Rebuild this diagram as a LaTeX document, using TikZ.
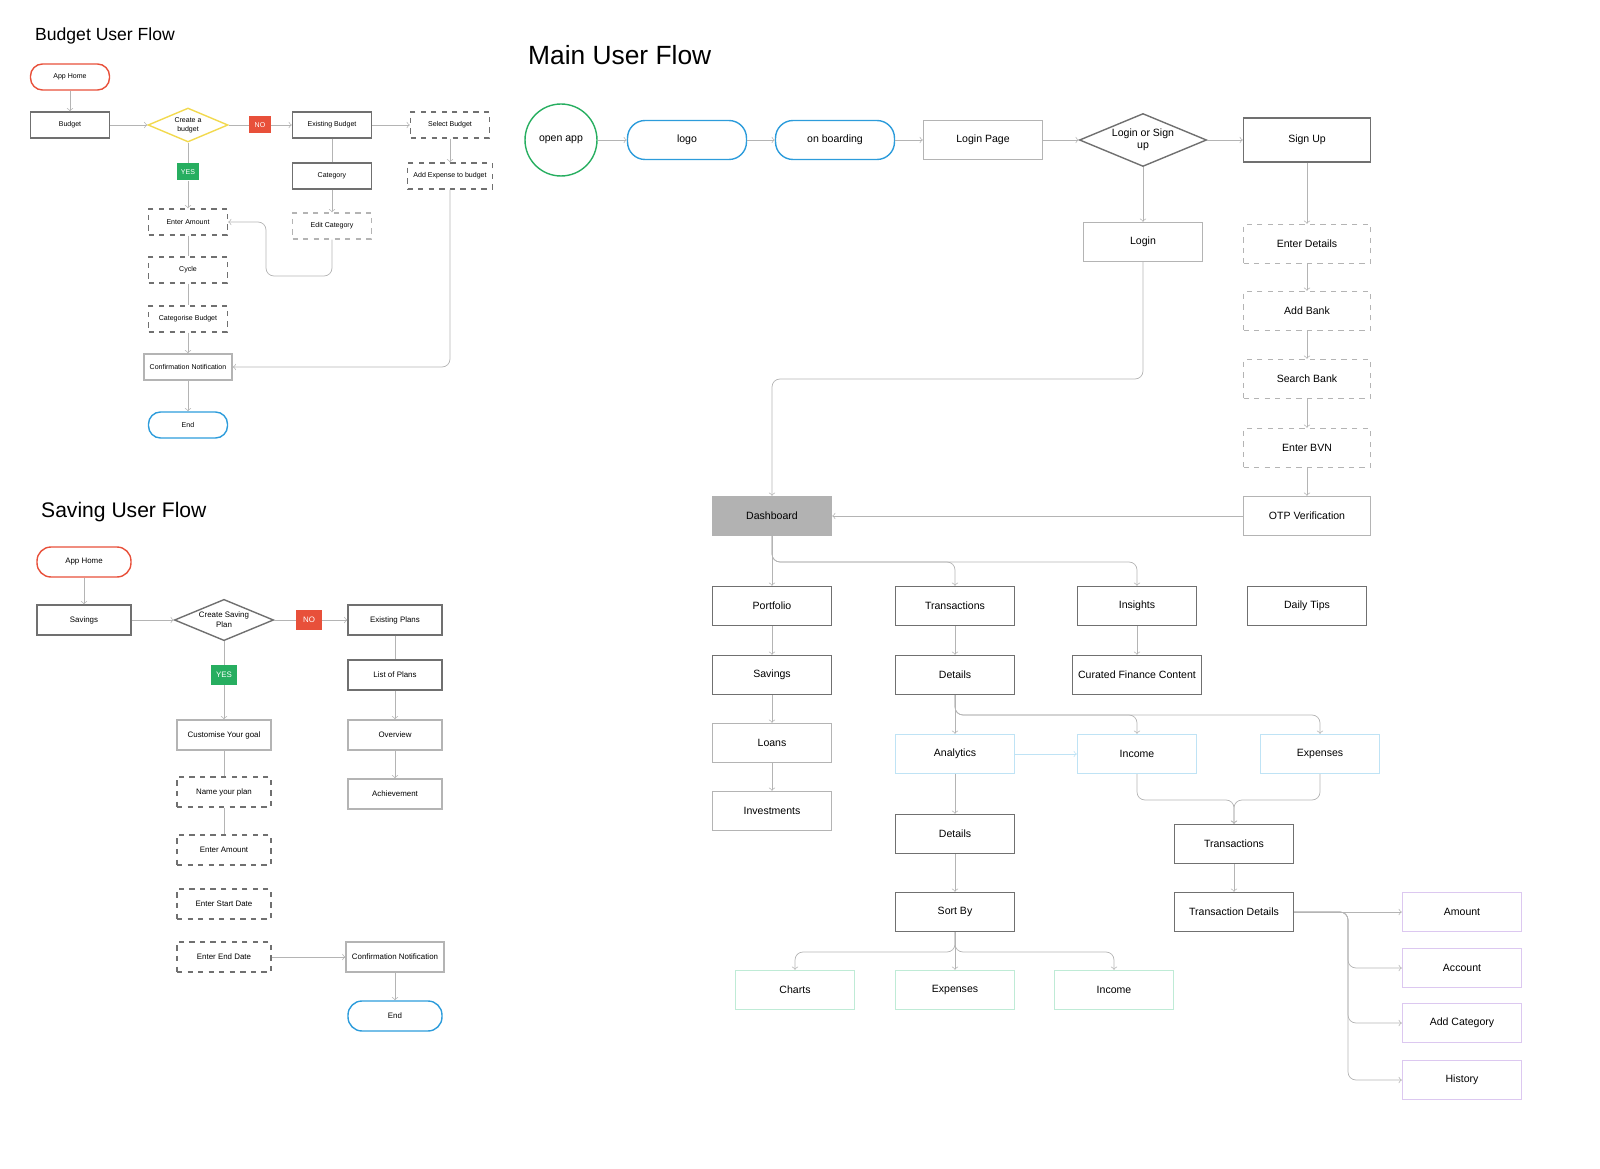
\documentclass[tikz,border=0pt]{standalone}
\usepackage{fontspec}
\setmainfont{Liberation Sans}
\usetikzlibrary{arrows,positioning,shapes.geometric}
\definecolor{ln}{HTML}{B4B4B4}
\definecolor{bd}{HTML}{707070}
\definecolor{redc}{HTML}{E8503A}
\definecolor{bluec}{HTML}{2D9CDB}
\definecolor{greenc}{HTML}{27AE60}
\definecolor{yelc}{HTML}{F2D94E}
\definecolor{ltblue}{HTML}{BFE3F5}
\definecolor{ltgreen}{HTML}{BFEBD6}
\definecolor{ltpurp}{HTML}{DCC8F0}
\begin{document}
\begin{tikzpicture}[x=0.02cm,y=-0.02cm,
  box/.style={draw=bd,thick,minimum width=2.38cm,minimum height=0.78cm,font=\fontsize{6}{7}\selectfont,align=center},
  lbox/.style={box,draw=ln},
  dbox/.style={box,dashed,draw=bd},
  pill/.style={box,rounded corners=0.35cm},
  dia/.style={diamond,aspect=2.4,draw=bd,thick,inner sep=1pt,font=\fontsize{6}{7}\selectfont,align=center},
  tag/.style={minimum width=0.44cm,minimum height=0.34cm,text=white,inner sep=0pt},
  sb/.style={minimum width=1.58cm,minimum height=0.52cm,font=\fontsize{4}{5}\selectfont},
  sv/.style={minimum width=1.88cm,minimum height=0.6cm,font=\fontsize{4.5}{5.5}\selectfont},
  con/.style={draw=ln,->,rounded corners=0.16cm},
  lin/.style={draw=ln,rounded corners=0.16cm}]

% titles
\node[anchor=west,font=\fontsize{10}{12}\selectfont] at (29,36) {Budget User Flow};
\node[anchor=west,font=\fontsize{12}{14}\selectfont] at (35,512) {Saving User Flow};
\node[anchor=west,font=\fontsize{15}{18}\selectfont] at (522,55) {Main User Flow};

% ---------- main flow
\node[circle,draw=greenc,thick,minimum size=1.44cm,font=\fontsize{6}{7}\selectfont] (open) at (561,140) {open app};
\node[pill,draw=bluec] (logo) at (687,140) {logo};
\node[pill,draw=bluec] (onb) at (835,140) {on boarding};
\node[lbox] (lpage) at (983,140) {Login Page};
\node[dia] (lors) at (1143,140) {Login or Sign\\up};
\node[box,minimum width=2.54cm,minimum height=0.88cm] (sign) at (1307,140) {Sign Up};
\node[lbox] (login) at (1143,242) {Login};
\node[dbox,draw=ln,minimum width=2.54cm] (edet) at (1307,244) {Enter Details};
\node[dbox,draw=ln,minimum width=2.54cm] (abank) at (1307,311) {Add Bank};
\node[dbox,draw=ln,minimum width=2.54cm] (sbank) at (1307,379) {Search Bank};
\node[dbox,draw=ln,minimum width=2.54cm] (bvn) at (1307,448) {Enter BVN};
\node[lbox,minimum width=2.54cm] (otp) at (1307,516) {OTP Verification};
\node[box,fill=black!30,draw=black!30] (dash) at (772,516) {Dashboard};

\node[box] (port) at (772,606) {Portfolio};
\node[box] (trans) at (955,606) {Transactions};
\node[box] (ins) at (1137,606) {Insights};
\node[box] (tips) at (1307,606) {Daily Tips};
\node[box] (sav) at (772,675) {Savings};
\node[box] (det) at (955,675) {Details};
\node[box] (cur) at (1137,675) {Curated Finance Content};
\node[lbox] (loans) at (772,743) {Loans};
\node[lbox] (inv) at (772,811) {Investments};
\node[box,draw=ltblue] (ana) at (955,754) {Analytics};
\node[box,draw=ltblue] (inc) at (1137,754) {Income};
\node[box,draw=ltblue] (exp) at (1320,754) {Expenses};
\node[box] (det2) at (955,834) {Details};
\node[box] (trans2) at (1234,844) {Transactions};
\node[box] (sort) at (955,912) {Sort By};
\node[box] (tdet) at (1234,912) {Transaction Details};
\node[box,draw=ltgreen] (chart) at (795,990) {Charts};
\node[box,draw=ltgreen] (exp2) at (955,990) {Expenses};
\node[box,draw=ltgreen] (inc2) at (1114,990) {Income};
\node[box,draw=ltpurp] (amt) at (1462,912) {Amount};
\node[box,draw=ltpurp] (acc) at (1462,968) {Account};
\node[box,draw=ltpurp] (acat) at (1462,1023) {Add Category};
\node[box,draw=ltpurp] (hist) at (1462,1080) {History};

\draw[con] (open) -- (logo);
\draw[con] (logo) -- (onb);
\draw[con] (onb) -- (lpage);
\draw[con] (lpage) -- (lors);
\draw[con] (lors) -- (sign);
\draw[con] (lors) -- (login);
\draw[con] (login) |- (772,379) -- (dash);
\draw[con] (sign) -- (edet);
\draw[con] (edet) -- (abank);
\draw[con] (abank) -- (sbank);
\draw[con] (sbank) -- (bvn);
\draw[con] (bvn) -- (otp);
\draw[con] (otp) -- (dash);
\draw[con] (dash) -- (port);
\draw[con] (dash.south) |- (955,562) -- (trans);
\draw[con] (dash.south) |- (1137,562) -- (ins);
\draw[con] (port) -- (sav);
\draw[con] (sav) -- (loans);
\draw[con] (loans) -- (inv);
\draw[con] (trans) -- (det);
\draw[con] (ins) -- (cur);
\draw[con] (det) -- (ana);
\draw[con] (det.south) |- (1137,715) -- (inc);
\draw[con] (det.south) |- (1320,715) -- (exp);
\draw[con,draw=ltblue] (ana) -- (inc);
\draw[con] (ana) -- (det2);
\draw[con] (det2) -- (sort);
\draw[con] (inc) |- (1234,800) -- (trans2);
\draw[con] (exp) |- (1234,800) -- (trans2);
\draw[con] (trans2) -- (tdet);
\draw[con] (sort.south) |- (795,952) -- (chart);
\draw[con] (sort) -- (exp2);
\draw[con] (sort.south) |- (1114,952) -- (inc2);
\draw[con] (tdet) -- (amt);
\draw[con] (tdet.east) -| (1348,968) -- (acc);
\draw[con] (tdet.east) -| (1348,1023) -- (acat);
\draw[con] (tdet.east) -| (1348,1080) -- (hist);

% ---------- budget flow
\node[pill,draw=redc,sb,rounded corners=0.24cm] (bhome) at (70,77) {App Home};
\node[box,sb] (bud) at (70,125) {Budget};
\node[dia,draw=yelc,sb,minimum width=1.6cm,minimum height=0.68cm] (cbud) at (188,125) {Create a\\budget};
\node[tag,fill=redc,font=\fontsize{4}{5}\selectfont] (bno) at (260,125) {NO};
\node[tag,fill=greenc,font=\fontsize{4}{5}\selectfont] (byes) at (188,172) {YES};
\node[box,sb] (ebud) at (332,125) {Existing Budget};
\node[dbox,sb] (selb) at (450,125) {Select Budget};
\node[box,sb] (cat) at (332,176) {Category};
\node[dbox,sb] (addx) at (450,176) {Add Expense to budget};
\node[dbox,draw=ln,sb] (ecat) at (332,226) {Edit Category};
\node[dbox,sb] (bamt) at (188,222) {Enter Amount};
\node[dbox,sb] (cyc) at (188,270) {Cycle};
\node[dbox,sb] (cbg) at (188,319) {Categorise Budget};
\node[lbox,sb] (bconf) at (188,367) {Confirmation Notification};
\node[pill,draw=bluec,sb,rounded corners=0.24cm] (bend) at (188,425) {End};
\draw[con] (bhome) -- (bud);
\draw[con] (bud) -- (cbud);
\draw[lin] (cbud) -- (bno);
\draw[con] (bno) -- (ebud);
\draw[con] (ebud) -- (selb);
\draw[lin] (ebud) -- (cat);
\draw[con] (cat) -- (ecat);
\draw[con] (selb) -- (addx);
\draw[con] (ecat) |- (266,276) |- (bamt);
\draw[lin] (cbud) -- (byes);
\draw[con] (byes) -- (bamt);
\draw[lin] (bamt) -- (cyc);
\draw[lin] (cyc) -- (cbg);
\draw[con] (cbg) -- (bconf);
\draw[con] (addx) |- (bconf);
\draw[con] (bconf) -- (bend);

% ---------- saving flow
\node[pill,draw=redc,sv,rounded corners=0.28cm] (shome) at (84,562) {App Home};
\node[box,sv] (ssav) at (84,620) {Savings};
\node[dia,sv,minimum width=1.88cm,minimum height=0.76cm] (cplan) at (224,620) {Create Saving\\Plan};
\node[tag,fill=redc,font=\fontsize{4.5}{5.5}\selectfont,minimum width=0.52cm,minimum height=0.4cm] (sno) at (309,620) {NO};
\node[tag,fill=greenc,font=\fontsize{4.5}{5.5}\selectfont,minimum width=0.52cm,minimum height=0.4cm] (syes) at (224,675) {YES};
\node[box,sv] (eplan) at (395,620) {Existing Plans};
\node[box,sv] (lplan) at (395,675) {List of Plans};
\node[lbox,sv] (over) at (395,735) {Overview};
\node[lbox,sv] (ach) at (395,794) {Achievement};
\node[lbox,sv] (goal) at (224,735) {Customise Your goal};
\node[dbox,sv] (name) at (224,792) {Name your plan};
\node[dbox,sv] (samt) at (224,850) {Enter Amount};
\node[dbox,sv] (start) at (224,904) {Enter Start Date};
\node[dbox,sv] (endd) at (224,957) {Enter End Date};
\node[lbox,sv] (sconf) at (395,957) {Confirmation Notification};
\node[pill,draw=bluec,sv,rounded corners=0.28cm] (send) at (395,1016) {End};
\draw[con] (shome) -- (ssav);
\draw[con] (ssav) -- (cplan);
\draw[lin] (cplan) -- (sno);
\draw[con] (sno) -- (eplan);
\draw[lin] (eplan) -- (lplan);
\draw[con] (lplan) -- (over);
\draw[con] (over) -- (ach);
\draw[lin] (cplan) -- (syes);
\draw[con] (syes) -- (goal);
\draw[lin] (goal) -- (name);
\draw[lin] (name) -- (samt);
\draw[con] (endd) -- (sconf);
\draw[con] (sconf) -- (send);

\pgfresetboundingbox
\useasboundingbox (0,0) rectangle (1600,1169);
\end{tikzpicture}
\end{document}
